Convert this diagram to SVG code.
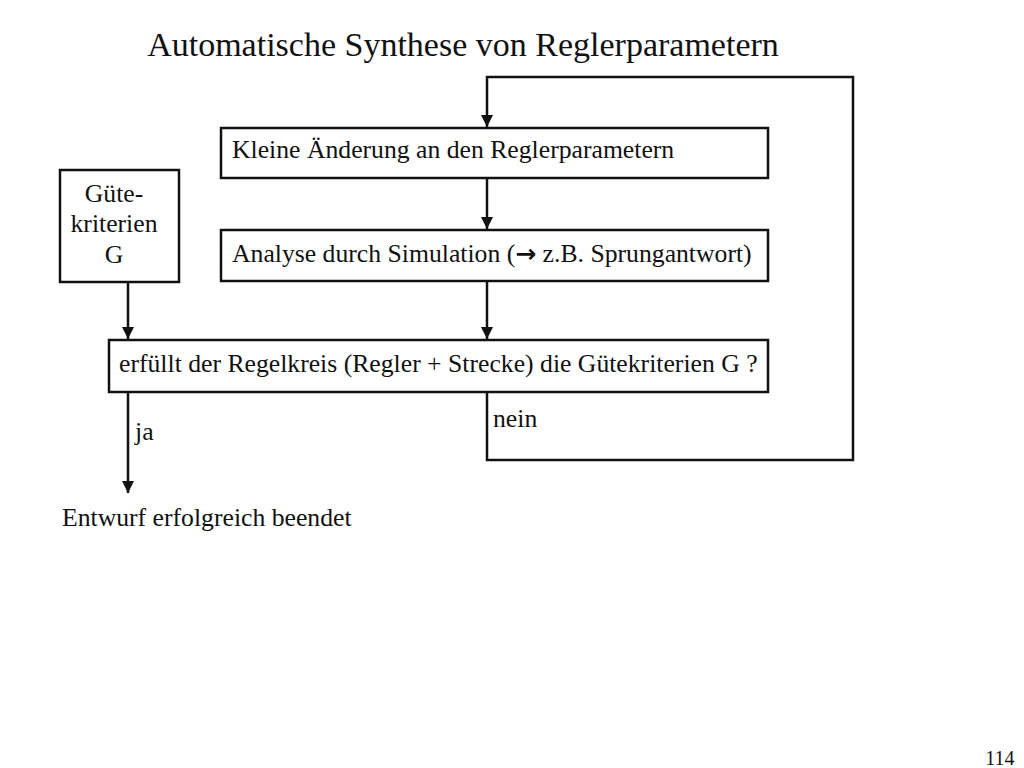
<svg xmlns="http://www.w3.org/2000/svg" width="1024" height="768" viewBox="0 0 1024 768">
<style>
text{font-family:"Liberation Serif","Times New Roman",serif;fill:#111}
.t{font-size:25.7px}
.ar{font-family:"DejaVu Sans",sans-serif;font-weight:bold;font-size:25px}
.box{fill:#fff;stroke:#111;stroke-width:2.5}
.ln{fill:none;stroke:#111;stroke-width:2.5}
</style>
<defs>
<marker id="ah" viewBox="0 0 10 10" refX="10" refY="5" markerWidth="5" markerHeight="5" markerUnits="strokeWidth" orient="auto">
<path d="M0,0 L10,5 L0,10 z" fill="#111"/>
</marker>
</defs>
<rect width="1024" height="768" fill="#fff"/>
<text x="463" y="56" font-size="34" text-anchor="middle">Automatische Synthese von Reglerparametern</text>
<g id="connectors">
<path class="ln" d="M487,392 V460 H853 V77 H487 V127" marker-end="url(#ah)"/>
<path class="ln" d="M487,178 V229" marker-end="url(#ah)"/>
<path class="ln" d="M487,281 V339" marker-end="url(#ah)"/>
<path class="ln" d="M128,282 V339" marker-end="url(#ah)"/>
<path class="ln" d="M128,392 V493" marker-end="url(#ah)"/>
<text class="t" x="135" y="440">ja</text>
<text class="t" x="493" y="427">nein</text>
</g>
<g id="n1">
<rect class="box" x="221" y="128" width="547" height="50"/>
<text class="t" x="232" y="158">Kleine Änderung an den Reglerparametern</text>
</g>
<g id="n2">
<rect class="box" x="221" y="230" width="547" height="51"/>
<text class="t" x="232" y="262">Analyse durch Simulation (<tspan class="ar">→</tspan> z.B. Sprungantwort)</text>
</g>
<g id="n3">
<rect class="box" x="60" y="170" width="119" height="112"/>
<text class="t" text-anchor="middle"><tspan x="114" y="202">Güte-</tspan><tspan x="114" y="232">kriterien</tspan><tspan x="114" y="263">G</tspan></text>
</g>
<g id="n4">
<rect class="box" x="109" y="340" width="659" height="52"/>
<text class="t" x="119" y="372">erfüllt der Regelkreis (Regler + Strecke) die Gütekriterien G ?</text>
</g>
<g id="n5">
<text class="t" x="62" y="526">Entwurf erfolgreich beendet</text>
</g>
<text x="1000" y="765" font-size="20" text-anchor="middle">114</text>
</svg>
